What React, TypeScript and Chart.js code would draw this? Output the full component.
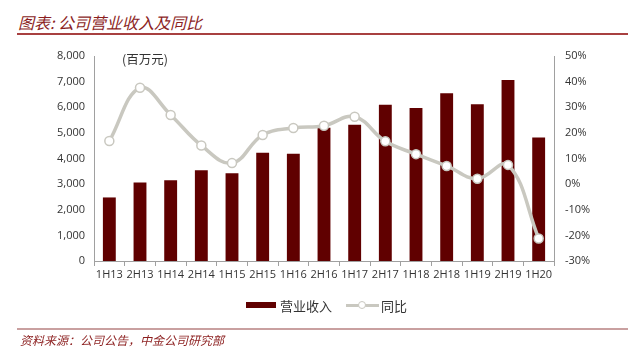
import React, { useEffect, useRef } from "react";
import { Chart, registerables } from "chart.js";

Chart.register(...registerables);

const categories = ["1H13", "2H13", "1H14", "2H14", "1H15", "2H15", "1H16", "2H16", "1H17", "2H17", "1H18", "2H18", "1H19", "2H19", "1H20"];
const revenue = [2480, 3060, 3150, 3540, 3420, 4220, 4190, 5200, 5320, 6100, 5970, 6550, 6120, 7060, 4820];
const yoy = [16.8, 37.6, 27.0, 15.1, 8.2, 19.2, 21.9, 22.8, 26.3, 16.7, 11.7, 7.1, 2.1, 7.5, -21.2];
const leftTicks = { min: 0, max: 8000, step: 1000 };
const rightTicks = { min: -30, max: 50, step: 10 };

const BAR = "#600000";
const LINE = "#c9c8c0";
const RED = "#8c1f1f";
const FONT = "'Open Sans', 'Noto Sans CJK SC', sans-serif";
const CJK = "'Noto Sans CJK SC', sans-serif";

export default function App() {
  const ref = useRef<HTMLCanvasElement | null>(null);
  useEffect(() => {
    if (!ref.current) return;
    const chart = new Chart(ref.current, {
      type: "bar",
      data: {
        labels: categories,
        datasets: [
          {
            type: "line",
            label: "同比",
            data: yoy,
            yAxisID: "y1",
            borderColor: LINE,
            borderWidth: 3.5,
            tension: 0.4,
            pointRadius: 4.5,
            pointBackgroundColor: "#ffffff",
            pointBorderColor: LINE,
            pointBorderWidth: 1.5,
            order: 0,
          } as any,
          {
            type: "bar",
            label: "营业收入",
            data: revenue,
            yAxisID: "y",
            backgroundColor: BAR,
            barPercentage: 0.42,
            categoryPercentage: 1,
            order: 1,
          },
        ],
      },
      options: {
        animation: false,
        responsive: false,
        layout: { padding: { top: 56, left: 0, right: 0, bottom: 65 } },
        plugins: { legend: { display: false }, tooltip: { enabled: false } },
        scales: {
          x: {
            offset: true,
            grid: { display: true, drawOnChartArea: false, drawTicks: true, tickLength: 5, color: "#a0a0a0", offset: true },
            border: { color: "#a0a0a0" },
            ticks: { font: { family: FONT, size: 11 }, color: "#333", padding: 2, maxRotation: 0, autoSkip: false },
            afterFit: (s: any) => { s.height = 30; },
          },
          y: {
            position: "left",
            min: leftTicks.min,
            max: leftTicks.max,
            grid: { display: false, drawTicks: false },
            border: { color: "#a0a0a0" },
            ticks: {
              stepSize: leftTicks.step,
              font: { family: FONT, size: 11 },
              color: "#333",
              padding: 9,
              callback: (v: any) => Number(v).toLocaleString("en-US"),
            },
            afterFit: (s: any) => { s.width = 94; },
          },
          y1: {
            position: "right",
            min: rightTicks.min,
            max: rightTicks.max,
            grid: { display: false, drawTicks: false },
            border: { color: "#a0a0a0" },
            ticks: {
              stepSize: rightTicks.step,
              font: { family: FONT, size: 11 },
              color: "#333",
              padding: 11,
              callback: (v: any) => `${v}%`,
            },
            afterFit: (s: any) => { s.width = 86; },
          },
        },
      },
    });
    return () => chart.destroy();
  }, []);

  return (
    <div style={{ position: "fixed", left: 0, top: 0, width: 640, height: 356, background: "#fff", overflow: "hidden" }}>
      <div style={{ position: "absolute", left: 18, top: 11, fontFamily: CJK, fontStyle: "italic", fontSize: 16, color: RED, lineHeight: "22px", whiteSpace: "nowrap" }}>
        图表: 公司营业收入及同比
      </div>
      <div style={{ position: "absolute", left: 17, top: 33, width: 611, height: 1.5, background: "#a84040" }} />
      <canvas ref={ref} width={640} height={356} style={{ position: "absolute", left: 0, top: 0, width: 640, height: 356 }} />
      <div style={{ position: "absolute", left: 122, top: 50, fontFamily: CJK, fontSize: 12.5, color: "#333", lineHeight: "18px" }}>
        (百万元)
      </div>
      <div style={{ position: "absolute", left: 246, top: 295, height: 20, display: "flex", alignItems: "center", fontFamily: CJK, fontSize: 13, color: "#333", whiteSpace: "nowrap" }}>
        <span style={{ display: "inline-block", width: 30, height: 6, background: BAR, marginRight: 4 }} />
        <span>营业收入</span>
        <span style={{ position: "relative", display: "inline-block", width: 33, height: 10, marginLeft: 14, marginRight: 2 }}>
          <span style={{ position: "absolute", left: 0, top: 3.5, width: 33, height: 3, background: LINE }} />
          <span style={{ position: "absolute", left: 12, top: 1, width: 6, height: 6, borderRadius: "50%", background: "#fff", border: `1.2px solid ${LINE}` }} />
        </span>
        <span>同比</span>
      </div>
      <div style={{ position: "absolute", left: 17, top: 328, width: 611, height: 1.5, background: "#c9a0a0" }} />
      <div style={{ position: "absolute", left: 20, top: 331, fontFamily: CJK, fontStyle: "italic", fontSize: 12, color: RED, lineHeight: "17px", whiteSpace: "nowrap" }}>
        资料来源：公司公告，中金公司研究部
      </div>
    </div>
  );
}
